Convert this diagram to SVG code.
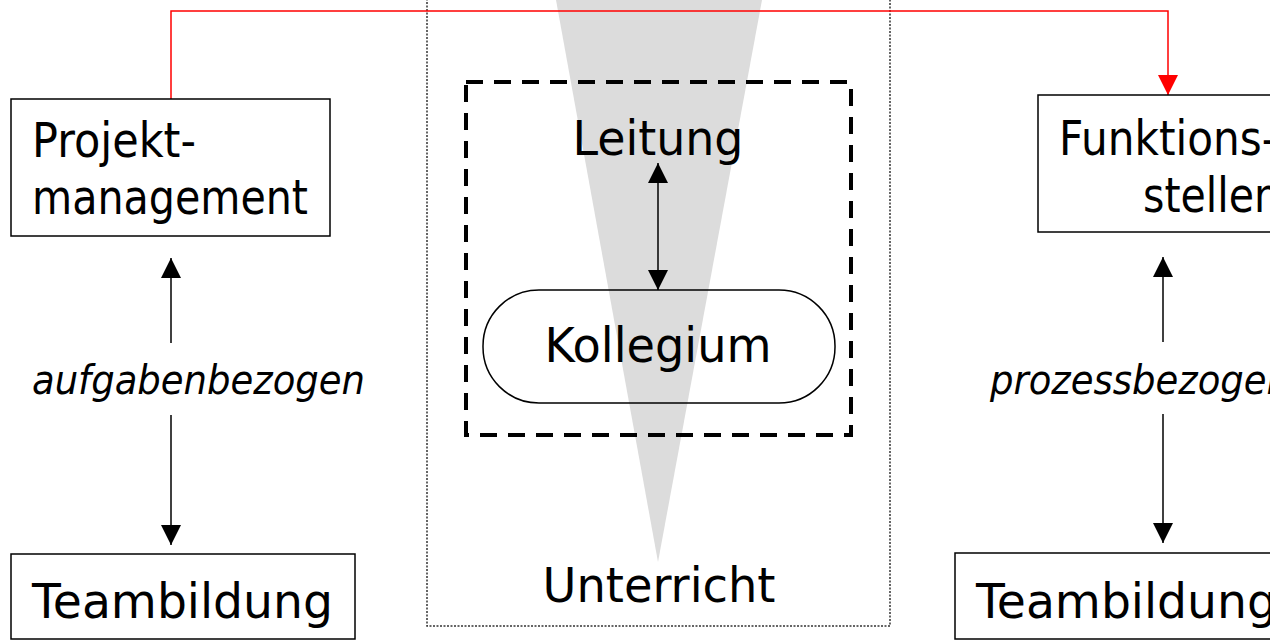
<svg xmlns="http://www.w3.org/2000/svg" width="1270" height="642" viewBox="0 0 1270 642">
<style>
.t{font-family:"DejaVu Sans","Liberation Sans",sans-serif;font-size:48px;fill:#000}
.i{font-family:"DejaVu Sans","Liberation Sans",sans-serif;font-size:40px;font-style:italic;fill:#000}
.box{fill:#fff;stroke:#000;stroke-width:1.5}
.ln{stroke:#000;stroke-width:1.5;fill:none}
</style>
<defs>
<marker id="ah" viewBox="0 0 20 20" refX="20" refY="10" markerWidth="20" markerHeight="20" markerUnits="userSpaceOnUse" orient="auto-start-reverse">
<path d="M0,0 L20,10 L0,20 Z" fill="#000"/>
</marker>
<marker id="ahr" viewBox="0 0 20 20" refX="20" refY="10" markerWidth="20" markerHeight="20" markerUnits="userSpaceOnUse" orient="auto">
<path d="M0,0 L20,10 L0,20 Z" fill="#ff0000"/>
</marker>
</defs>
<rect width="1270" height="642" fill="#fff"/>
<g id="center-frame">
<path d="M427,-5 L427,626 L890,626 L890,-5" fill="none" stroke="#333" stroke-width="1.5" stroke-dasharray="2 1.5"/>
<polygon points="556,0 762,0 658,562" fill="#dcdcdc"/>
<rect x="466" y="82" width="385" height="353" fill="none" stroke="#000" stroke-width="4" stroke-dasharray="17 11"/>
</g>
<g id="connectors">
<polyline points="171,99 171,11 1168,11 1168,95" fill="none" stroke="#ff0000" stroke-width="1.5" marker-end="url(#ahr)"/>
<line class="ln" x1="171" y1="343" x2="171" y2="258" marker-end="url(#ah)"/>
<line class="ln" x1="171" y1="415" x2="171" y2="545" marker-end="url(#ah)"/>
<line class="ln" x1="1163" y1="342" x2="1163" y2="257" marker-end="url(#ah)"/>
<line class="ln" x1="1163" y1="414" x2="1163" y2="543" marker-end="url(#ah)"/>
<line class="ln" x1="658" y1="163" x2="658" y2="290" marker-start="url(#ah)" marker-end="url(#ah)"/>
</g>
<g id="projektmanagement">
<rect class="box" x="11" y="99" width="319" height="137"/>
<text class="t" x="32" y="157" textLength="164" lengthAdjust="spacingAndGlyphs">Projekt-</text>
<text class="t" x="32" y="214" textLength="276" lengthAdjust="spacingAndGlyphs">management</text>
</g>
<g id="label-aufgabenbezogen">
<text class="i" x="32" y="394" textLength="333" lengthAdjust="spacingAndGlyphs">aufgabenbezogen</text>
</g>
<g id="teambildung-left">
<rect class="box" x="11" y="554" width="344" height="85"/>
<text class="t" x="32" y="618" textLength="301" lengthAdjust="spacingAndGlyphs">Teambildung</text>
</g>
<g id="leitung">
<text class="t" x="658" y="155" text-anchor="middle" textLength="171" lengthAdjust="spacingAndGlyphs">Leitung</text>
</g>
<g id="kollegium">
<rect x="483" y="290" width="352" height="113" rx="56" ry="56" fill="none" stroke="#000" stroke-width="1.5"/>
<text class="t" x="658" y="362" text-anchor="middle" textLength="227" lengthAdjust="spacingAndGlyphs">Kollegium</text>
</g>
<g id="unterricht">
<text class="t" x="659" y="602" text-anchor="middle" textLength="233" lengthAdjust="spacingAndGlyphs">Unterricht</text>
</g>
<g id="funktionsstellen">
<rect class="box" x="1038" y="95" width="262" height="137"/>
<text class="t" x="1059" y="155" textLength="218" lengthAdjust="spacingAndGlyphs">Funktions-</text>
<text class="t" x="1143" y="212" textLength="137" lengthAdjust="spacingAndGlyphs">stellen</text>
</g>
<g id="label-prozessbezogen">
<text class="i" x="990" y="394" textLength="300" lengthAdjust="spacingAndGlyphs">prozessbezogen</text>
</g>
<g id="teambildung-right">
<rect class="box" x="955" y="553" width="344" height="86"/>
<text class="t" x="976" y="618" textLength="301" lengthAdjust="spacingAndGlyphs">Teambildung</text>
</g>
</svg>
